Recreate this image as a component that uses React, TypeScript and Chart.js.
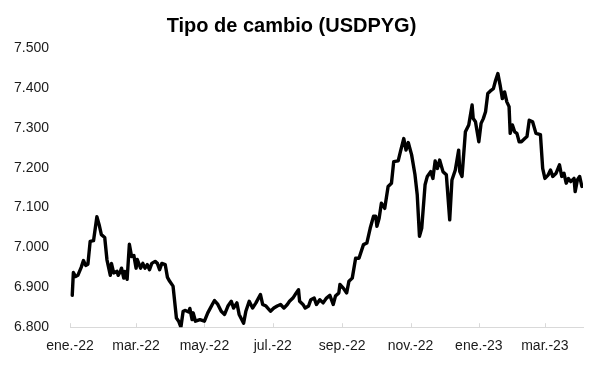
import { useEffect, useRef } from "react";
import { Chart, registerables } from "chart.js";

Chart.register(...registerables);

const chartTitle = "Tipo de cambio (USDPYG)";

// days since 2022-01-01
const dayOffsets = [
  2, 3, 5, 7, 10, 12, 14, 16, 18, 21, 24, 26, 28, 31, 33, 36, 37, 39, 42, 43,
  45, 46, 48, 49, 51, 53, 55, 57, 59, 60, 63, 65, 67, 69, 71, 73, 76, 78, 80, 82,
  85, 87, 89, 92, 95, 97, 99, 101, 103, 106, 107, 109, 110, 112, 116, 120, 123, 127, 129, 132,
  135, 138, 141, 144, 146, 149, 151, 155, 157, 160, 163, 166, 170, 172, 175, 179, 182, 185, 188, 191,
  194, 196, 199, 202, 204, 205, 208, 210, 213, 215, 218, 220, 223, 226, 229, 232, 235, 237, 240, 241,
  244, 247, 249, 252, 255, 258, 262, 265, 268, 271, 273, 274, 276, 278, 281, 284, 287, 289, 293, 295,
  298, 300, 302, 305, 308, 310, 312, 314, 317, 319, 322, 324, 326, 328, 330, 333, 336, 338, 339, 341,
  344, 347, 348, 350, 353, 356, 359, 360, 362, 365, 367, 369, 371, 373, 376, 378, 380, 382, 384, 386,
  388, 390, 392, 393, 395, 397, 399, 401, 403, 406, 408, 410, 413, 416, 420, 422, 424, 427, 429, 431,
  434, 437, 439, 441, 443, 445, 447, 450, 451, 453, 455, 457,
];

// guaraníes per US dollar
const usdpyg = [
  6880, 6937, 6927, 6930, 6950, 6967, 6955, 6958, 7015, 7017, 7077, 7057, 7032, 7025, 6969, 6930, 6960, 6936, 6940, 6930,
  6940, 6948, 6923, 6940, 6920, 7008, 6977, 6980, 6948, 6970, 6948, 6960, 6948, 6957, 6944, 6960, 6965, 6960, 6944, 6960,
  6957, 6925, 6915, 6903, 6823, 6815, 6800, 6840, 6842, 6838, 6847, 6819, 6836, 6815, 6819, 6815, 6836, 6857, 6867, 6857,
  6840, 6832, 6853, 6865, 6848, 6861, 6832, 6810, 6840, 6865, 6848, 6861, 6882, 6857, 6853, 6840, 6848, 6853, 6857, 6848,
  6857, 6865, 6873, 6886, 6894, 6865, 6857, 6848, 6853, 6869, 6873, 6857, 6869, 6861, 6873, 6880, 6857, 6878, 6886, 6907,
  6898, 6886, 6915, 6923, 6973, 6973, 7007, 7011, 7048, 7078, 7078, 7053, 7073, 7111, 7098, 7153, 7161, 7215, 7217, 7240,
  7273, 7244, 7263, 7232, 7182, 7132, 7028, 7048, 7157, 7178, 7190, 7173, 7217, 7198, 7219, 7190, 7182, 7107, 7069, 7169,
  7194, 7244, 7190, 7178, 7290, 7307, 7357, 7323, 7315, 7265, 7311, 7323, 7340, 7386, 7394, 7398, 7419, 7436, 7407, 7373,
  7390, 7365, 7353, 7286, 7307, 7290, 7286, 7265, 7265, 7273, 7278, 7319, 7315, 7286, 7283, 7198, 7173, 7182, 7194, 7178,
  7186, 7207, 7178, 7186, 7161, 7173, 7165, 7173, 7140, 7169, 7178, 7153,
];

// month tick positions (days since 2022-01-01) and their labels
const monthTickDays = [0, 59, 120, 181, 243, 304, 365, 424];
const monthTickLabels = ["ene.-22", "mar.-22", "may.-22", "jul.-22", "sep.-22", "nov.-22", "ene.-23", "mar.-23"];

const yMin = 6800;
const yMax = 7500;
const yStep = 100;

function fmtThousands(v: number): string {
  const r = Math.round(v);
  const th = Math.floor(r / 1000);
  const rest = String(r % 1000).padStart(3, "0");
  return `${th}.${rest}`;
}

const innerTicks = {
  id: "innerTicks",
  beforeDatasetsDraw(chart: any) {
    const xs = chart.scales.x;
    const ctx = chart.ctx;
    ctx.save();
    ctx.strokeStyle = "#d9d9d9";
    ctx.lineWidth = 1;
    xs.ticks.forEach((t: any) => {
      const px = Math.round(xs.getPixelForValue(t.value)) + 0.5;
      ctx.beginPath();
      ctx.moveTo(px, xs.top);
      ctx.lineTo(px, xs.top - 4);
      ctx.stroke();
    });
    ctx.restore();
  },
};

export default function App() {
  const ref = useRef<HTMLCanvasElement | null>(null);

  useEffect(() => {
    document.body.style.margin = "0";
    const canvas = ref.current;
    if (!canvas) return;
    const chart = new Chart(canvas, {
      type: "line",
      data: {
        datasets: [
          {
            data: dayOffsets.map((d, i) => ({ x: d, y: usdpyg[i] })),
            borderColor: "#000000",
            borderWidth: 3.4,
            pointRadius: 0,
            tension: 0,
            borderJoinStyle: "round",
            borderCapStyle: "round",
          },
        ],
      },
      options: {
        animation: false,
        responsive: false,
        layout: { padding: { left: 0, right: 13, top: 0, bottom: 23 } },
        plugins: {
          legend: { display: false },
          tooltip: { enabled: false },
          title: {
            display: true,
            text: chartTitle,
            color: "#000000",
            font: { family: "'Liberation Sans', Arial, sans-serif", size: 20, weight: "bold" },
            padding: { top: 14, bottom: 10 },
          },
        },
        scales: {
          x: {
            type: "linear",
            min: 0,
            max: 458,
            grid: { display: false },
            border: { display: true, color: "#d9d9d9", width: 1 },
            afterBuildTicks: (scale: any) => {
              scale.ticks = monthTickDays.map((v) => ({ value: v }));
            },
            ticks: {
              autoSkip: false,
              maxRotation: 0,
              padding: 3,
              color: "#1a1a1a",
              font: { family: "'Liberation Sans', Arial, sans-serif", size: 14 },
              callback: (_v: any, i: number) => monthTickLabels[i],
            },
          },
          y: {
            min: yMin,
            max: yMax,
            grid: { display: false },
            border: { display: false },
            afterFit: (scale: any) => {
              scale.width = 70;
            },
            ticks: {
              stepSize: yStep,
              padding: 13,
              color: "#1a1a1a",
              font: { family: "'Liberation Sans', Arial, sans-serif", size: 14 },
              callback: (v: any) => fmtThousands(Number(v)),
            },
          },
        },
      },
      plugins: [innerTicks],
    });
    return () => chart.destroy();
  }, []);

  return (
    <div style={{ width: 596, height: 381, background: "#ffffff" }}>
      <canvas ref={ref} width={596} height={381} style={{ display: "block" }} />
    </div>
  );
}
